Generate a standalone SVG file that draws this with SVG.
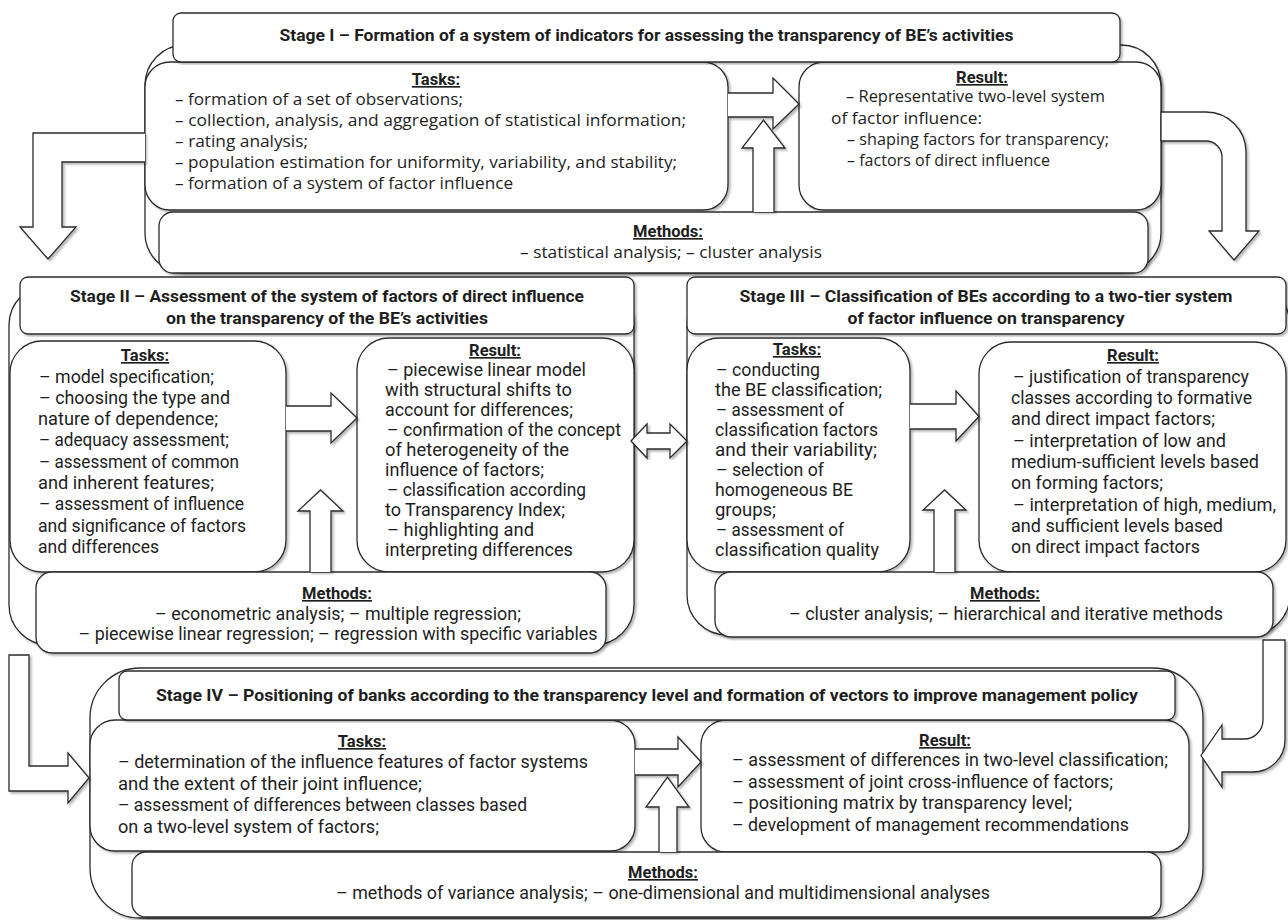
<svg xmlns="http://www.w3.org/2000/svg" width="1288" height="920" viewBox="0 0 1288 920">
<defs>
<filter id="sh" x="-5%" y="-5%" width="110%" height="110%">
<feDropShadow dx="2" dy="2" stdDeviation="1" flood-color="#000" flood-opacity="0.28"/>
</filter>
<style>
.box{fill:#fff;stroke:#2b2b2b;stroke-width:1.3;filter:url(#sh)}
.arr{fill:#fff;stroke:#2b2b2b;stroke-width:1.3;stroke-linejoin:miter;filter:url(#sh)}
.ti{font-family:Roboto,"Liberation Sans",sans-serif;font-weight:bold;font-size:16.5px;fill:#1e1e1e;text-anchor:middle}
.hd{font-family:Roboto,"Liberation Sans",sans-serif;font-weight:bold;font-size:16.5px;fill:#1e1e1e;text-anchor:middle;text-decoration:underline}
.b1{font-family:"Open Sans","Liberation Sans",sans-serif;font-size:16px;fill:#1e1e1e}
.b2{font-family:Roboto,"Liberation Sans",sans-serif;font-size:18px;fill:#1e1e1e}
.m{text-anchor:middle}
</style>
</defs>
<rect width="1288" height="920" fill="#fff"/>

<g id="stage1">
<rect class="box" x="145" y="45" width="1016" height="228" rx="40"/>
<g id="stage1-tasks">
<rect class="box" x="145" y="62" width="583" height="148" rx="25"/>
<text class="hd" x="436" y="85">Tasks:</text>
<text class="b1" x="175" y="105" textLength="288" lengthAdjust="spacingAndGlyphs">– formation of a set of observations;</text>
<text class="b1" x="175" y="126" textLength="511" lengthAdjust="spacingAndGlyphs">– collection, analysis, and aggregation of statistical information;</text>
<text class="b1" x="175" y="147" textLength="133" lengthAdjust="spacingAndGlyphs">– rating analysis;</text>
<text class="b1" x="175" y="168" textLength="502" lengthAdjust="spacingAndGlyphs">– population estimation for uniformity, variability, and stability;</text>
<text class="b1" x="175" y="189" textLength="338" lengthAdjust="spacingAndGlyphs">– formation of a system of factor influence</text>
</g>
<g id="stage1-result">
<rect class="box" x="799" y="62" width="362" height="148" rx="25"/>
<text class="hd" x="982" y="83">Result:</text>
<text class="b1" x="846" y="102" textLength="259" lengthAdjust="spacingAndGlyphs">– Representative two-level system</text>
<text class="b1" x="831" y="124" textLength="151" lengthAdjust="spacingAndGlyphs">of factor influence:</text>
<text class="b1" x="847" y="145" textLength="262" lengthAdjust="spacingAndGlyphs">– shaping factors for transparency;</text>
<text class="b1" x="847" y="166" textLength="203" lengthAdjust="spacingAndGlyphs">– factors of direct influence</text>
</g>
<g id="stage1-methods">
<rect class="box" x="159" y="212" width="989" height="61" rx="14"/>
<text class="hd" x="668" y="237">Methods:</text>
<text class="b1 m" x="671" y="258" textLength="302" lengthAdjust="spacingAndGlyphs">– statistical analysis; – cluster analysis</text>
</g>
<g id="stage1-title">
<rect class="box" x="173" y="13" width="947" height="49" rx="8"/>
<text class="ti" x="646.5" y="41" textLength="734" lengthAdjust="spacingAndGlyphs">Stage I – Formation of a system of indicators for assessing the transparency of BE’s activities</text>
</g>
</g>

<g id="stage2">
<rect class="box" x="9" y="285" width="625" height="360" rx="40"/>
<g id="stage2-tasks">
<rect class="box" x="10" y="341" width="276" height="231" rx="32"/>
<text class="hd" x="145" y="361">Tasks:</text>
<text class="b2" x="39" y="383" textLength="175" lengthAdjust="spacingAndGlyphs">– model specification;</text>
<text class="b2" x="39" y="404" textLength="191" lengthAdjust="spacingAndGlyphs">– choosing the type and</text>
<text class="b2" x="38" y="425" textLength="180" lengthAdjust="spacingAndGlyphs">nature of dependence;</text>
<text class="b2" x="39" y="446" textLength="190" lengthAdjust="spacingAndGlyphs">– adequacy assessment;</text>
<text class="b2" x="39" y="468" textLength="200" lengthAdjust="spacingAndGlyphs">– assessment of common</text>
<text class="b2" x="38" y="489" textLength="176" lengthAdjust="spacingAndGlyphs">and inherent features;</text>
<text class="b2" x="39" y="510" textLength="205" lengthAdjust="spacingAndGlyphs">– assessment of influence</text>
<text class="b2" x="38" y="532" textLength="208" lengthAdjust="spacingAndGlyphs">and significance of factors</text>
<text class="b2" x="38" y="553" textLength="121" lengthAdjust="spacingAndGlyphs">and differences</text>
</g>
<g id="stage2-result">
<rect class="box" x="357" y="338" width="277" height="234" rx="32"/>
<text class="hd" x="495" y="356">Result:</text>
<text class="b2" x="387" y="376" textLength="199" lengthAdjust="spacingAndGlyphs">– piecewise linear model</text>
<text class="b2" x="385" y="396" textLength="187" lengthAdjust="spacingAndGlyphs">with structural shifts to</text>
<text class="b2" x="385" y="416" textLength="188" lengthAdjust="spacingAndGlyphs">account for differences;</text>
<text class="b2" x="387" y="436" textLength="234" lengthAdjust="spacingAndGlyphs">– confirmation of the concept</text>
<text class="b2" x="385" y="456" textLength="184" lengthAdjust="spacingAndGlyphs">of heterogeneity of the</text>
<text class="b2" x="385" y="476" textLength="159" lengthAdjust="spacingAndGlyphs">influence of factors;</text>
<text class="b2" x="387" y="496" textLength="199" lengthAdjust="spacingAndGlyphs">– classification according</text>
<text class="b2" x="385" y="516" textLength="180" lengthAdjust="spacingAndGlyphs">to Transparency Index;</text>
<text class="b2" x="387" y="536" textLength="147" lengthAdjust="spacingAndGlyphs">– highlighting and</text>
<text class="b2" x="385" y="556" textLength="188" lengthAdjust="spacingAndGlyphs">interpreting differences</text>
</g>
<g id="stage2-methods">
<rect class="box" x="36" y="572" width="570" height="81" rx="16"/>
<text class="hd" x="337" y="599">Methods:</text>
<text class="b2 m" x="338" y="620" textLength="366" lengthAdjust="spacingAndGlyphs">– econometric analysis; – multiple regression;</text>
<text class="b2 m" x="338" y="640" textLength="519" lengthAdjust="spacingAndGlyphs">– piecewise linear regression; – regression with specific variables</text>
</g>
<g id="stage2-title">
<rect class="box" x="20" y="277" width="614" height="57" rx="8"/>
<text class="ti" x="327" y="302" textLength="514" lengthAdjust="spacingAndGlyphs">Stage II – Assessment of the system of factors of direct influence</text>
<text class="ti" x="327" y="324" textLength="322" lengthAdjust="spacingAndGlyphs">on the transparency of the BE’s activities</text>
</g>
</g>

<g id="stage3">
<rect class="box" x="687" y="285" width="603" height="350" rx="40"/>
<g id="stage3-tasks">
<rect class="box" x="687" y="338" width="223" height="234" rx="32"/>
<text class="hd" x="797" y="355">Tasks:</text>
<text class="b2" x="716" y="376" textLength="104" lengthAdjust="spacingAndGlyphs">– conducting</text>
<text class="b2" x="715" y="396" textLength="167" lengthAdjust="spacingAndGlyphs">the BE classification;</text>
<text class="b2" x="716" y="416" textLength="128" lengthAdjust="spacingAndGlyphs">– assessment of</text>
<text class="b2" x="715" y="436" textLength="163" lengthAdjust="spacingAndGlyphs">classification factors</text>
<text class="b2" x="715" y="456" textLength="162" lengthAdjust="spacingAndGlyphs">and their variability;</text>
<text class="b2" x="716" y="476" textLength="108" lengthAdjust="spacingAndGlyphs">– selection of</text>
<text class="b2" x="715" y="496" textLength="138" lengthAdjust="spacingAndGlyphs">homogeneous BE</text>
<text class="b2" x="715" y="516" textLength="61" lengthAdjust="spacingAndGlyphs">groups;</text>
<text class="b2" x="716" y="536" textLength="128" lengthAdjust="spacingAndGlyphs">– assessment of</text>
<text class="b2" x="715" y="556" textLength="164" lengthAdjust="spacingAndGlyphs">classification quality</text>
</g>
<g id="stage3-result">
<rect class="box" x="979" y="342" width="307" height="230" rx="32"/>
<text class="hd" x="1133" y="361">Result:</text>
<text class="b2" x="1013" y="383" textLength="236" lengthAdjust="spacingAndGlyphs">– justification of transparency</text>
<text class="b2" x="1011" y="404" textLength="241" lengthAdjust="spacingAndGlyphs">classes according to formative</text>
<text class="b2" x="1011" y="425" textLength="204" lengthAdjust="spacingAndGlyphs">and direct impact factors;</text>
<text class="b2" x="1013" y="447" textLength="213" lengthAdjust="spacingAndGlyphs">– interpretation of low and</text>
<text class="b2" x="1011" y="468" textLength="248" lengthAdjust="spacingAndGlyphs">medium-sufficient levels based</text>
<text class="b2" x="1011" y="489" textLength="152" lengthAdjust="spacingAndGlyphs">on forming factors;</text>
<text class="b2" x="1013" y="511" textLength="263" lengthAdjust="spacingAndGlyphs">– interpretation of high, medium,</text>
<text class="b2" x="1011" y="532" textLength="212" lengthAdjust="spacingAndGlyphs">and sufficient levels based</text>
<text class="b2" x="1011" y="553" textLength="189" lengthAdjust="spacingAndGlyphs">on direct impact factors</text>
</g>
<g id="stage3-methods">
<rect class="box" x="715" y="572" width="558" height="65" rx="16"/>
<text class="hd" x="1005" y="599">Methods:</text>
<text class="b2 m" x="1006" y="620" textLength="434" lengthAdjust="spacingAndGlyphs">– cluster analysis; – hierarchical and iterative methods</text>
</g>
<g id="stage3-title">
<rect class="box" x="687" y="277" width="599" height="57" rx="8"/>
<text class="ti" x="986" y="302" textLength="493" lengthAdjust="spacingAndGlyphs">Stage III – Classification of BEs according to a two-tier system</text>
<text class="ti" x="986" y="324" textLength="277" lengthAdjust="spacingAndGlyphs">of factor influence on transparency</text>
</g>
</g>

<g id="stage4">
<rect class="box" x="90" y="668" width="1113" height="250" rx="50"/>
<g id="stage4-tasks">
<rect class="box" x="90" y="720" width="545" height="131" rx="25"/>
<text class="hd" x="362" y="747">Tasks:</text>
<text class="b2" x="118" y="768" textLength="470" lengthAdjust="spacingAndGlyphs">– determination of the influence features of factor systems</text>
<text class="b2" x="118" y="790" textLength="304" lengthAdjust="spacingAndGlyphs">and the extent of their joint influence;</text>
<text class="b2" x="118" y="811" textLength="409" lengthAdjust="spacingAndGlyphs">– assessment of differences between classes based</text>
<text class="b2" x="118" y="833" textLength="261" lengthAdjust="spacingAndGlyphs">on a two-level system of factors;</text>
</g>
<g id="stage4-result">
<rect class="box" x="701" y="720" width="488" height="132" rx="25"/>
<text class="hd" x="945" y="746">Result:</text>
<text class="b2" x="732" y="766" textLength="436" lengthAdjust="spacingAndGlyphs">– assessment of differences in two-level classification;</text>
<text class="b2" x="732" y="788" textLength="381" lengthAdjust="spacingAndGlyphs">– assessment of joint cross-influence of factors;</text>
<text class="b2" x="732" y="809" textLength="340" lengthAdjust="spacingAndGlyphs">– positioning matrix by transparency level;</text>
<text class="b2" x="732" y="831" textLength="397" lengthAdjust="spacingAndGlyphs">– development of management recommendations</text>
</g>
<g id="stage4-methods">
<rect class="box" x="132" y="852" width="1029" height="65" rx="14"/>
<text class="hd" x="663" y="878">Methods:</text>
<text class="b2 m" x="663" y="899" textLength="654" lengthAdjust="spacingAndGlyphs">– methods of variance analysis; – one-dimensional and multidimensional analyses</text>
</g>
<g id="stage4-title">
<rect class="box" x="119" y="671" width="1056" height="49" rx="8"/>
<text class="ti" x="647" y="701" textLength="982" lengthAdjust="spacingAndGlyphs">Stage IV – Positioning of banks according to the transparency level and formation of vectors to improve management policy</text>
</g>
</g>

<g id="connectors">
<path class="arr" d="M728,93 L773,93 L773,78 L799,104 L773,129 L773,117 L728,117"/>
<path class="arr" d="M753,212 L753,148 L742,148 L763.5,120 L785,148 L774,148 L774,212"/>
<path class="arr" d="M145,133 L33,133 L33,227 L20,227 L48,259 L76,227 L62,227 L62,162 L145,162"/>
<path class="arr" d="M1161,112 L1206,112 A40,40 0 0 1 1246,152 L1246,231 L1259,231 L1234,260 L1209,231 L1222,231 L1222,157 A16,16 0 0 0 1206,141 L1161,141 Z"/>
<path class="arr" d="M286,406 L331,406 L331,393 L357,418 L331,443 L331,431 L286,431"/>
<path class="arr" d="M310,572 L310,511 L298,511 L320.5,490 L343,511 L331,511 L331,572"/>
<path class="arr" d="M631,441 L647,424 L647,433 L670,433 L670,424 L687,441 L670,458 L670,449 L647,449 L647,458 Z"/>
<path class="arr" d="M910,404 L956,404 L956,391 L979,416.5 L956,441 L956,429 L910,429"/>
<path class="arr" d="M934,572 L934,510 L923,510 L944.5,490 L966,510 L955,510 L955,572"/>
<path class="arr" d="M9,655 L9,791 L68,791 L68,803 L89,778 L68,753 L68,766 L29,766 L29,655 Z"/>
<path class="arr" d="M1263,640 L1263,720 A19,19 0 0 1 1244,739 L1222,739 L1222,725 L1201,755.5 L1222,787 L1222,772 L1253,772 A32,32 0 0 0 1285,740 L1285,640 Z"/>
<path class="arr" d="M635,749 L678,749 L678,737 L701,762 L678,787 L678,775 L635,775"/>
<path class="arr" d="M659,852 L659,807 L646,807 L667.5,777 L689,807 L677,807 L677,852"/>
</g>
</svg>
